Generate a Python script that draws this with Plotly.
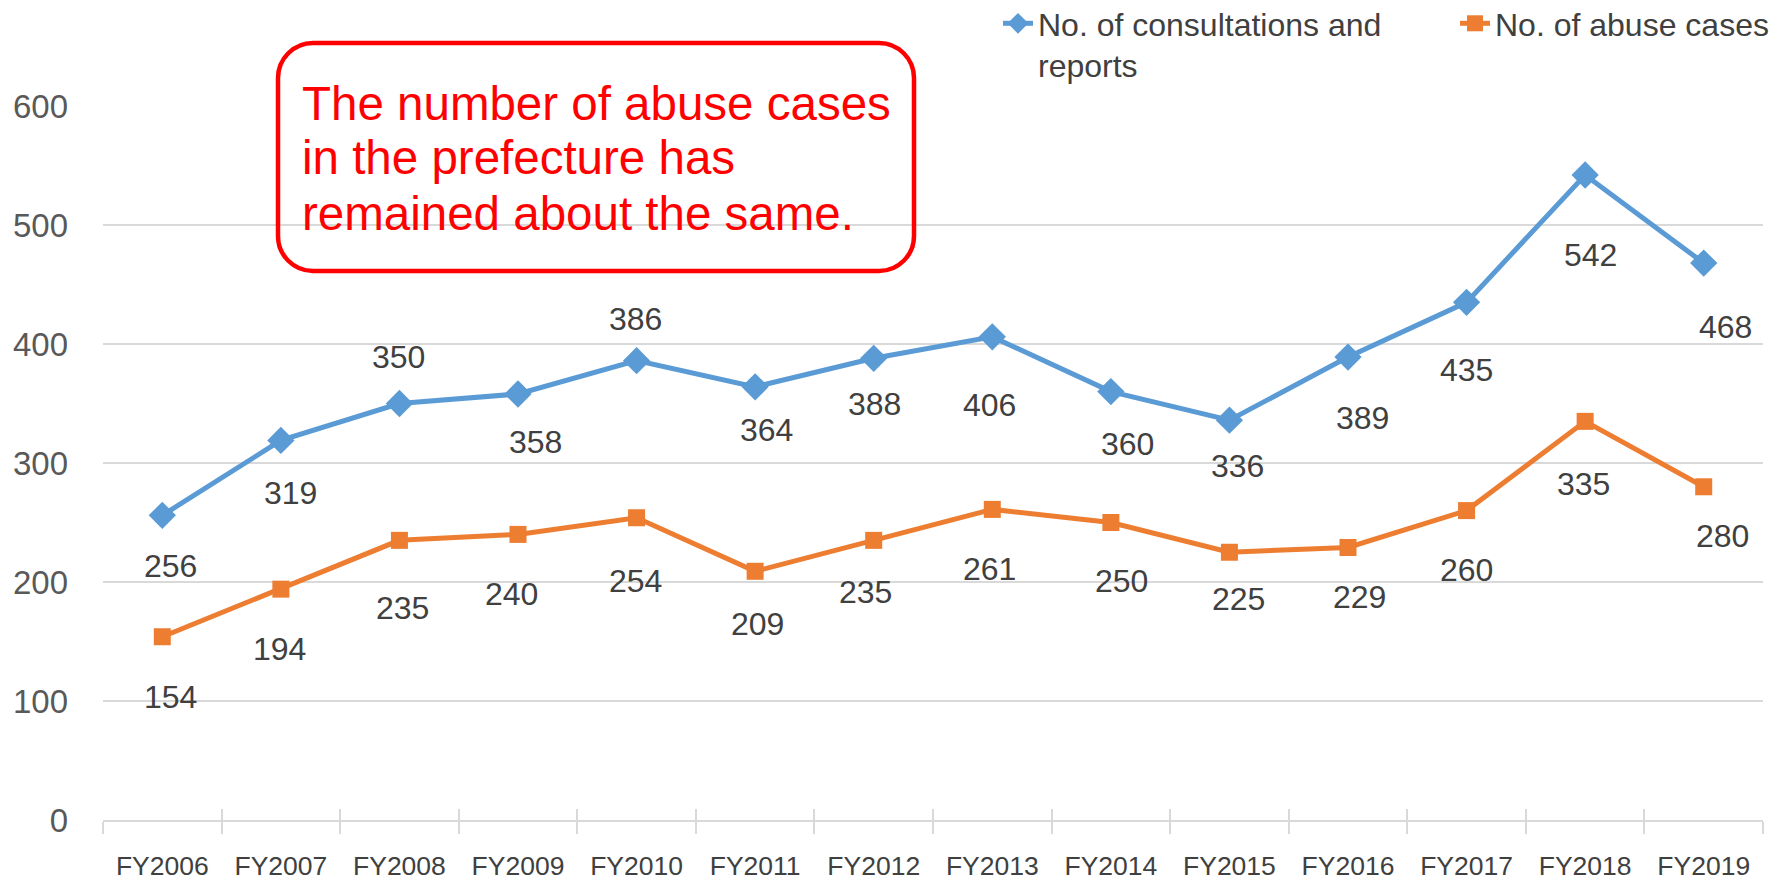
import plotly.graph_objects as go

# ---------------- data ----------------
years = ["FY2006", "FY2007", "FY2008", "FY2009", "FY2010", "FY2011", "FY2012",
         "FY2013", "FY2014", "FY2015", "FY2016", "FY2017", "FY2018", "FY2019"]
consultations = [256, 319, 350, 358, 386, 364, 388, 406, 360, 336, 389, 435, 542, 468]
abuse_cases = [154, 194, 235, 240, 254, 209, 235, 261, 250, 225, 229, 260, 335, 280]
y_tick_values = [0, 100, 200, 300, 400, 500, 600]
series_names = ["No. of consultations and<br>reports", "No. of abuse cases"]
note_lines = ["The number of abuse cases", "in the prefecture has", "remained about the same."]

# ---------------- layout constants ----------------
OFF = 0                      # page body margin removed via post_script
W, H = 1785 - OFF, 883 - OFF
ML, MT = 103 - OFF, 106 - OFF
PLOT_R, PLOT_B = 1763 - OFF, 820 - OFF
MR, MB = W - PLOT_R, H - PLOT_B
PW, PH = PLOT_R - ML, PLOT_B - MT
FONT = "Liberation Sans, Arial, sans-serif"
BLUE, ORANGE = "#5B9BD5", "#ED7D31"
GRID = "#D9D9D9"
TXT = "#404040"

# data-label offsets in screen pixels (dx right, dy down)
blue_off = [(8, 51), (10, 53), (-1, -47), (17, 48), (-1, -42), (11, 43), (1, 46),
            (-3, 68), (17, 52), (8, 46), (14, 61), (0, 68), (5, 80), (22, 64)]
orange_off = [(8, 60), (-1, 60), (3, 68), (-7, 60), (-1, 63), (2, 53), (-8, 52),
              (-3, 60), (11, 58), (9, 47), (11, 50), (0, 59), (-2, 63), (19, 49)]


def px(x):
    """screen x -> paper x"""
    return (x - OFF - ML) / PW


def py(y):
    """screen y -> paper y"""
    return (PLOT_B - (y - OFF)) / PH


fig = go.Figure()
fig.add_trace(go.Scatter(
    x=years, y=consultations, name=series_names[0], mode="lines+markers",
    line=dict(color=BLUE, width=5),
    marker=dict(symbol="diamond", size=21, color=BLUE),
    hoverinfo="x+y"))
fig.add_trace(go.Scatter(
    x=years, y=abuse_cases, name=series_names[1], mode="lines+markers",
    line=dict(color=ORANGE, width=5),
    marker=dict(symbol="square", size=17, color=ORANGE),
    hoverinfo="x+y"))
# invisible helper trace for the upper half of the crossing tick marks
fig.add_trace(go.Scatter(
    x=years, y=consultations, xaxis="x2", mode="markers",
    marker=dict(opacity=0), showlegend=False, hoverinfo="skip"))

annotations = []
for i, (yr, v) in enumerate(zip(years, consultations)):
    dx, dy = blue_off[i]
    annotations.append(dict(x=yr, y=v, xref="x", yref="y", text=str(v), showarrow=False,
                            xshift=dx, yshift=-dy, font=dict(family=FONT, size=32, color=TXT)))
for i, (yr, v) in enumerate(zip(years, abuse_cases)):
    dx, dy = orange_off[i]
    annotations.append(dict(x=yr, y=v, xref="x", yref="y", text=str(v), showarrow=False,
                            xshift=dx, yshift=-dy, font=dict(family=FONT, size=32, color=TXT)))

line_centers = [103, 158, 213]
for t, yc in zip(note_lines, line_centers):
    annotations.append(dict(x=px(300), y=py(yc), xref="paper", yref="paper", text=t,
                            showarrow=False, xanchor="left", yanchor="middle",
                            font=dict(family=FONT, size=47.5, color="#FF0000")))

# rounded rectangle around the note (screen coords)
x0, x1, y0, y1, r = 278, 914, 43, 271, 35
k = 0.552 * r
path = (
    f"M{px(x0 + r)},{py(y0)} L{px(x1 - r)},{py(y0)} "
    f"C{px(x1 - r + k)},{py(y0)} {px(x1)},{py(y0 + r - k)} {px(x1)},{py(y0 + r)} "
    f"L{px(x1)},{py(y1 - r)} "
    f"C{px(x1)},{py(y1 - r + k)} {px(x1 - r + k)},{py(y1)} {px(x1 - r)},{py(y1)} "
    f"L{px(x0 + r)},{py(y1)} "
    f"C{px(x0 + r - k)},{py(y1)} {px(x0)},{py(y1 - r + k)} {px(x0)},{py(y1 - r)} "
    f"L{px(x0)},{py(y0 + r)} "
    f"C{px(x0)},{py(y0 + r - k)} {px(x0 + r - k)},{py(y0)} {px(x0 + r)},{py(y0)} Z"
)

fig.update_layout(
    width=W, height=H,
    margin=dict(l=ML, r=MR, t=MT, b=MB, pad=0, autoexpand=False),
    paper_bgcolor="white", plot_bgcolor="white",
    font=dict(family=FONT, color=TXT),
    showlegend=True,
    legend=dict(orientation="h", xref="paper", yref="paper",
                x=px(998), xanchor="left", y=py(-4), yanchor="top",
                valign="top", font=dict(family=FONT, size=32, color=TXT),
                entrywidth=412, entrywidthmode="pixels",
                bgcolor="rgba(0,0,0,0)", borderwidth=0),
    xaxis=dict(type="category", categoryorder="array", categoryarray=years,
               range=[-0.5, len(years) - 0.5], tickson="boundaries",
               ticks="outside", ticklen=12, tickwidth=1.5, tickcolor=GRID,
               showline=True, linecolor=GRID, linewidth=1.5, showgrid=False,
               zeroline=False, tickfont=dict(family=FONT, size=26.5, color=TXT),
               tickangle=0, automargin=False,
               ticklabelstandoff=21, fixedrange=True),
    xaxis2=dict(type="category", categoryorder="array", categoryarray=years,
                range=[-0.5, len(years) - 0.5], overlaying="x", anchor="y", side="bottom",
                tickson="boundaries", ticks="inside", ticklen=11, tickwidth=1.5,
                tickcolor=GRID, showticklabels=False, showline=False, showgrid=False,
                zeroline=False, automargin=False, fixedrange=True),
    yaxis=dict(range=[0, 600], tickvals=y_tick_values, showgrid=True, gridcolor=GRID,
               gridwidth=1.5, zeroline=False, showline=False, ticks="",
               tickfont=dict(family=FONT, size=33, color="#595959"),
               automargin=False, ticklabelstandoff=34, fixedrange=True),
    annotations=annotations,
    shapes=[dict(type="path", path=path, xref="paper", yref="paper",
                 line=dict(color="#FF0000", width=4.5), fillcolor="rgba(0,0,0,0)",
                 layer="above")],
)

fig.write_html("out.html",
               config={"displayModeBar": False},
               post_script="document.body.style.margin='0';document.body.style.overflow='hidden';")
